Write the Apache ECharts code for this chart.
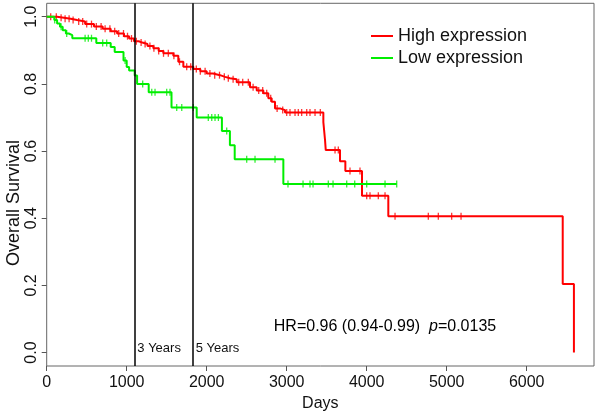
<!DOCTYPE html>
<html>
<head>
<meta charset="utf-8">
<script src="https://cdn.jsdelivr.net/npm/echarts@6/dist/echarts.min.js"></script>
<style>html,body{margin:0;padding:0;background:#fff}#c{width:600px;height:415px}</style>
</head>
<body>
<div id="c"></div>
<script>
// ---- data ----
const xTicks = [0, 1000, 2000, 3000, 4000, 5000, 6000];
const yTicks = [0, 0.2, 0.4, 0.6, 0.8, 1.0];

const highTimes = [0, 130, 216, 300, 379, 480, 591, 700, 800, 880, 966, 1030, 1091, 1150, 1195, 1260, 1333, 1400, 1458, 1583, 1645, 1708, 1833, 1920, 2000, 2080, 2166, 2230, 2291, 2375, 2541, 2625, 2708, 2770, 2812, 2854, 2916, 2979, 3458, 3479, 3488, 3666, 3733, 3941, 4270, 6450, 6590];
const highSurv  = [1.0, 0.997, 0.994, 0.99, 0.986, 0.978, 0.971, 0.964, 0.957, 0.95, 0.942, 0.935, 0.927, 0.923, 0.919, 0.913, 0.906, 0.898, 0.891, 0.884, 0.866, 0.851, 0.844, 0.838, 0.831, 0.826, 0.821, 0.817, 0.814, 0.805, 0.79, 0.78, 0.772, 0.757, 0.747, 0.727, 0.722, 0.715, 0.686, 0.633, 0.603, 0.57, 0.541, 0.467, 0.406, 0.204, 0.0];
const highCensor = [50, 120, 180, 230, 280, 330, 400, 450, 500, 560, 620, 680, 730, 790, 850, 900, 960, 1010, 1060, 1120, 1180, 1230, 1290, 1340, 1400, 1460, 1520, 1590, 1660, 1750, 1800, 1870, 1920, 1980, 2040, 2100, 2160, 2220, 2270, 2330, 2400, 2450, 2520, 2580, 2650, 2700, 2750, 2800, 2880, 2950, 3000, 3041, 3104, 3145, 3187, 3250, 3291, 3354, 3420, 3604, 3645, 3791, 3916, 4000, 4041, 4145, 4229, 4354, 4770, 4895, 5062, 5179];

const lowTimes = [0, 95, 130, 166, 200, 240, 275, 320, 620, 800, 850, 960, 1000, 1030, 1100, 1130, 1275, 1560, 1875, 2190, 2290, 2350, 2958, 4375];
const lowSurv  = [1.0, 0.99, 0.98, 0.97, 0.96, 0.95, 0.945, 0.936, 0.922, 0.91, 0.895, 0.87, 0.85, 0.84, 0.825, 0.80, 0.775, 0.73, 0.70, 0.66, 0.617, 0.576, 0.502, 0.502];
const lowCensor = [100, 180, 250, 480, 520, 560, 700, 750, 980, 1200, 1313, 1354, 1500, 1541, 1625, 1688, 1833, 2020, 2063, 2104, 2146, 2250, 2500, 2604, 2854, 3016, 3204, 3291, 3329, 3520, 3579, 3750, 3850, 4000, 4229, 4375];

const markerDays = [1095, 1825];
const markerLabels = ['3 Years', '5 Years'];
const seriesNames = ['High expression', 'Low expression'];
const yTitle = 'Overall Survival';
const hrText = 'HR=0.96 (0.94-0.99)  ';
const pText = '=0.0135';

// ---- helpers ----
function pairs(t, s) { return t.map((v, i) => [v, s[i]]); }
function survAt(t, s, x) { let v = s[0]; for (let i = 0; i < t.length; i++) { if (t[i] <= x) v = s[i]; } return v; }
function censorPts(c, t, s) { return c.map(x => [x, survAt(t, s, x)]); }

const FONT = 'Liberation Sans, Arial, Helvetica, sans-serif';
const RED = '#ff0000', GREEN = '#00ee00';

const chart = echarts.init(document.getElementById('c'), null, { renderer: 'canvas' });
chart.setOption({
  animation: false,
  backgroundColor: '#fff',
  textStyle: { fontFamily: FONT },
  grid: { left: 46.7, right: 6, top: 3.3, bottom: 49, show: true, borderColor: '#666', borderWidth: 1, containLabel: false, outerBoundsMode: 'none' },
  legend: {
    data: seriesNames, orient: 'vertical', left: 366, top: 22, itemWidth: 22, itemHeight: 2, itemGap: 4,
    icon: 'rect', textStyle: { fontSize: 18, color: '#111', fontFamily: FONT }
  },
  xAxis: {
    type: 'value', min: 0, max: 6841,
    axisLine: { show: false, onZero: false },
    axisTick: { show: true, length: 5, customValues: xTicks, lineStyle: { color: '#555' } },
    axisLabel: { customValues: xTicks, fontSize: 16, margin: 9, color: '#111', fontFamily: FONT, formatter: v => String(v) },
    splitLine: { show: false },
    name: 'Days', nameLocation: 'middle', nameGap: 25, nameTextStyle: { fontSize: 16, color: '#111', fontFamily: FONT }
  },
  yAxis: {
    type: 'value', min: -0.04, max: 1.04,
    axisLine: { show: false, onZero: false },
    axisTick: { show: true, length: 5, customValues: yTicks, lineStyle: { color: '#555' } },
    axisLabel: { customValues: yTicks, rotate: 90, fontSize: 16, margin: 7, color: '#111', fontFamily: FONT, formatter: v => v.toFixed(1) },
    splitLine: { show: false }
  },
  series: [
    {
      name: seriesNames[0], type: 'line', step: 'end', showSymbol: false, data: pairs(highTimes, highSurv),
      lineStyle: { color: RED, width: 2 }, itemStyle: { color: RED }, z: 3,
      markLine: {
        silent: true, symbol: ['none', 'none'], label: { show: false },
        lineStyle: { color: '#000', width: 1.5, type: 'solid' },
        data: markerDays.map(d => ({ xAxis: d }))
      }
    },
    {
      name: seriesNames[1], type: 'line', step: 'end', showSymbol: false, data: pairs(lowTimes, lowSurv),
      lineStyle: { color: GREEN, width: 2 }, itemStyle: { color: GREEN }, z: 4
    },
    {
      name: 'highCensor', type: 'scatter', symbol: 'rect', symbolSize: [1.3, 7],
      data: censorPts(highCensor, highTimes, highSurv), itemStyle: { color: RED }, z: 3
    },
    {
      name: 'lowCensor', type: 'scatter', symbol: 'rect', symbolSize: [1.3, 7],
      data: censorPts(lowCensor, lowTimes, lowSurv), itemStyle: { color: GREEN }, z: 4
    }
  ]
});

const graphics = markerDays.map((d, i) => {
  const p = chart.convertToPixel({ xAxisIndex: 0, yAxisIndex: 0 }, [d, 0]);
  return { type: 'text', x: p[0] + 3, y: p[1] - 4, style: { text: markerLabels[i], font: '13px ' + FONT, fill: '#111', textVerticalAlign: 'middle' } };
});
graphics.push({
  type: 'text', x: 14, y: 203, rotation: Math.PI / 2,
  style: { text: yTitle, font: '18px ' + FONT, fill: '#111', align: 'center', verticalAlign: 'middle' }
});
graphics.push({
  type: 'text', x: 385, y: 327,
  style: {
    text: '{a|' + hrText + '}{b|p}{a|' + pText + '}', align: 'center', verticalAlign: 'middle',
    rich: { a: { fontSize: 16, fontFamily: FONT, color: '#111' }, b: { fontSize: 16, fontFamily: FONT, fontStyle: 'italic', color: '#111' } }
  }
});
chart.setOption({ graphic: graphics });
</script>
</body>
</html>
